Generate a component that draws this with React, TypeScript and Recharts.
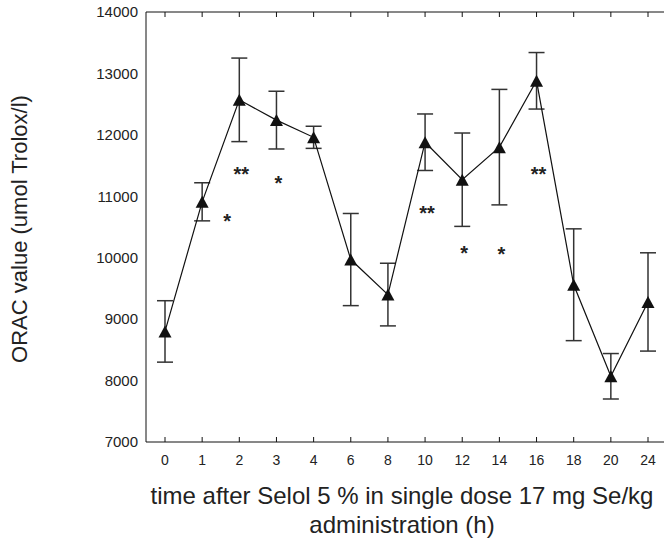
import React from 'react'
import { LineChart, Line, XAxis, YAxis, ErrorBar, Label } from 'recharts'

// hours after dose (categorical axis, evenly spaced)
const hours = ['0', '1', '2', '3', '4', '6', '8', '10', '12', '14', '16', '18', '20', '24']
// mean ORAC value
const orac = [8800, 10910, 12570, 12240, 11960, 9970, 9400, 11880, 11270, 11800, 12880, 9560, 8070, 9280]
// SD (symmetric error bars)
const sd = [500, 310, 680, 470, 180, 750, 510, 460, 760, 940, 460, 910, 370, 800]
// significance markers and their heights
const sigMarks = ['', '*', '**', '*', '', '', '', '**', '*', '*', '**', '', '', '']
const sigLevel = [null, 10660, 11420, 11280, null, null, null, 10790, 10140, 10130, 11420, null, null, null]

const yTicks = [7000, 8000, 9000, 10000, 11000, 12000, 13000, 14000]

const data = hours.map((h, i) => ({
  hour: h,
  orac: orac[i],
  sd: sd[i],
  sig: sigLevel[i],
  mark: sigMarks[i],
}))

const FONT = '"Liberation Sans", Arial, sans-serif'
const TEXT = '#222'

function Triangle(props: any) {
  const { cx, cy } = props
  if (cx == null || cy == null) return null
  const w = 13
  const h = 12
  return (
    <polygon
      points={`${cx},${cy - h / 2} ${cx - w / 2},${cy + h / 2} ${cx + w / 2},${cy + h / 2}`}
      fill="#111"
    />
  )
}

function SigMark(props: any) {
  const { cx, cy, payload } = props
  if (cx == null || cy == null || !payload.mark) return null
  // the first star sits between 1 h and 2 h in the original
  const dx = payload.hour === '1' ? 25 : 2
  return (
    <text
      x={cx + dx}
      y={cy + 11}
      textAnchor="middle"
      fontSize={20}
      fontWeight="bold"
      fontFamily={FONT}
      fill="#222"
    >
      {payload.mark}
    </text>
  )
}

function YTitle() {
  return (
    <text
      x={19}
      y={229}
      transform="rotate(-90, 19, 229)"
      textAnchor="middle"
      dominantBaseline="central"
      fontSize={22}
      fontFamily={FONT}
      fill={TEXT}
    >
      ORAC value (umol Trolox/l)
    </text>
  )
}

function XTitle() {
  return (
    <g>
      <text x={402} y={504} textAnchor="middle" fontSize={24} fontFamily={FONT} fill={TEXT}>
        time after Selol 5 % in single dose 17 mg Se/kg
      </text>
      <text x={402} y={533} textAnchor="middle" fontSize={24} fontFamily={FONT} fill={TEXT}>
        administration (h)
      </text>
    </g>
  )
}

const NoTick = () => <g />

export default function App() {
  return (
    <div
      style={{
        position: 'absolute',
        left: 0,
        top: 0,
        width: 664,
        height: 539,
        overflow: 'hidden',
        background: '#fff',
      }}
    >
      <LineChart
        width={680}
        height={539}
        data={data}
        margin={{ top: 11, right: 13, left: 0, bottom: 0 }}
      >
        <XAxis
          dataKey="hour"
          xAxisId="bottom"
          height={97}
          padding={{ left: 19, right: 19 }}
          stroke="#111"
          tickSize={-5}
          tickMargin={18}
          tick={{ fontSize: 14, fontFamily: FONT, fill: TEXT }}
          interval={0}
        >
          <Label content={<XTitle />} />
        </XAxis>
        {/* top frame line with inward ticks */}
        <XAxis
          dataKey="hour"
          xAxisId="top"
          orientation="top"
          height={1}
          padding={{ left: 19, right: 19 }}
          stroke="#111"
          tickSize={-5}
          tick={NoTick}
          interval={0}
        />
        <YAxis
          width={146}
          domain={[7000, 14000]}
          ticks={yTicks}
          stroke="#111"
          tickLine={false}
          tick={{ fontSize: 15, fontFamily: FONT, fill: TEXT }}
          interval={0}
        >
          <Label content={<YTitle />} />
        </YAxis>
        <Line
          xAxisId="bottom"
          dataKey="orac"
          stroke="#111"
          strokeWidth={1.2}
          dot={<Triangle />}
          activeDot={false}
          isAnimationActive={false}
        >
          <ErrorBar dataKey="sd" width={8} stroke="#333" strokeWidth={1.5} isAnimationActive={false} />
        </Line>
        <Line
          xAxisId="bottom"
          dataKey="sig"
          stroke="none"
          dot={<SigMark />}
          activeDot={false}
          connectNulls={false}
          isAnimationActive={false}
        />
      </LineChart>
    </div>
  )
}
